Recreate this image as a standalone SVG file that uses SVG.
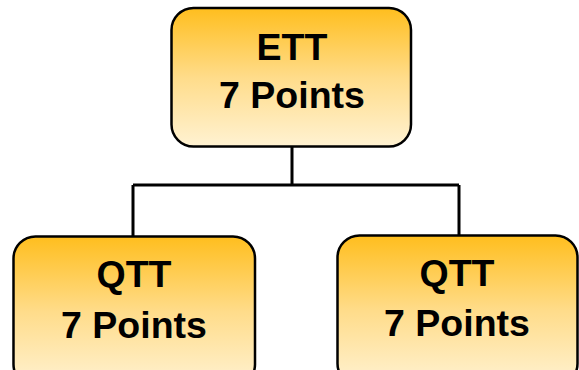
<svg xmlns="http://www.w3.org/2000/svg" width="579" height="370" viewBox="0 0 579 370">
<defs>
<linearGradient id="g" x1="0" y1="0" x2="0" y2="1">
<stop offset="0" stop-color="#FFBE1E"/>
<stop offset="0.5" stop-color="#FFDC8A"/>
<stop offset="1" stop-color="#FFF2D2"/>
</linearGradient>
<style>
.box{fill:url(#g);stroke:#000;stroke-width:2.5}
.t{font-family:"Liberation Sans",Arial,sans-serif;font-weight:bold;font-size:37.5px;text-anchor:middle;fill:#000}
.c{fill:none;stroke:#000;stroke-width:3}
</style>
</defs>
<rect width="579" height="370" fill="#fff"/>
<g id="connectors">
<path class="c" d="M292 147V185M133 185H459M133 185V236M459 185V236"/>
</g>
<g id="ett">
<rect class="box" x="171.5" y="8" width="239.5" height="138.5" rx="22"/>
<text class="t" x="292" y="60">ETT</text>
<text class="t" x="292" y="108">7 Points</text>
</g>
<g id="qtt-left">
<rect class="box" x="13.5" y="236.5" width="241.5" height="150" rx="22"/>
<text class="t" x="134" y="287">QTT</text>
<text class="t" x="134" y="338">7 Points</text>
</g>
<g id="qtt-right">
<rect class="box" x="337.5" y="235.5" width="240" height="150" rx="22"/>
<text class="t" x="457" y="286">QTT</text>
<text class="t" x="457" y="336">7 Points</text>
</g>
</svg>
